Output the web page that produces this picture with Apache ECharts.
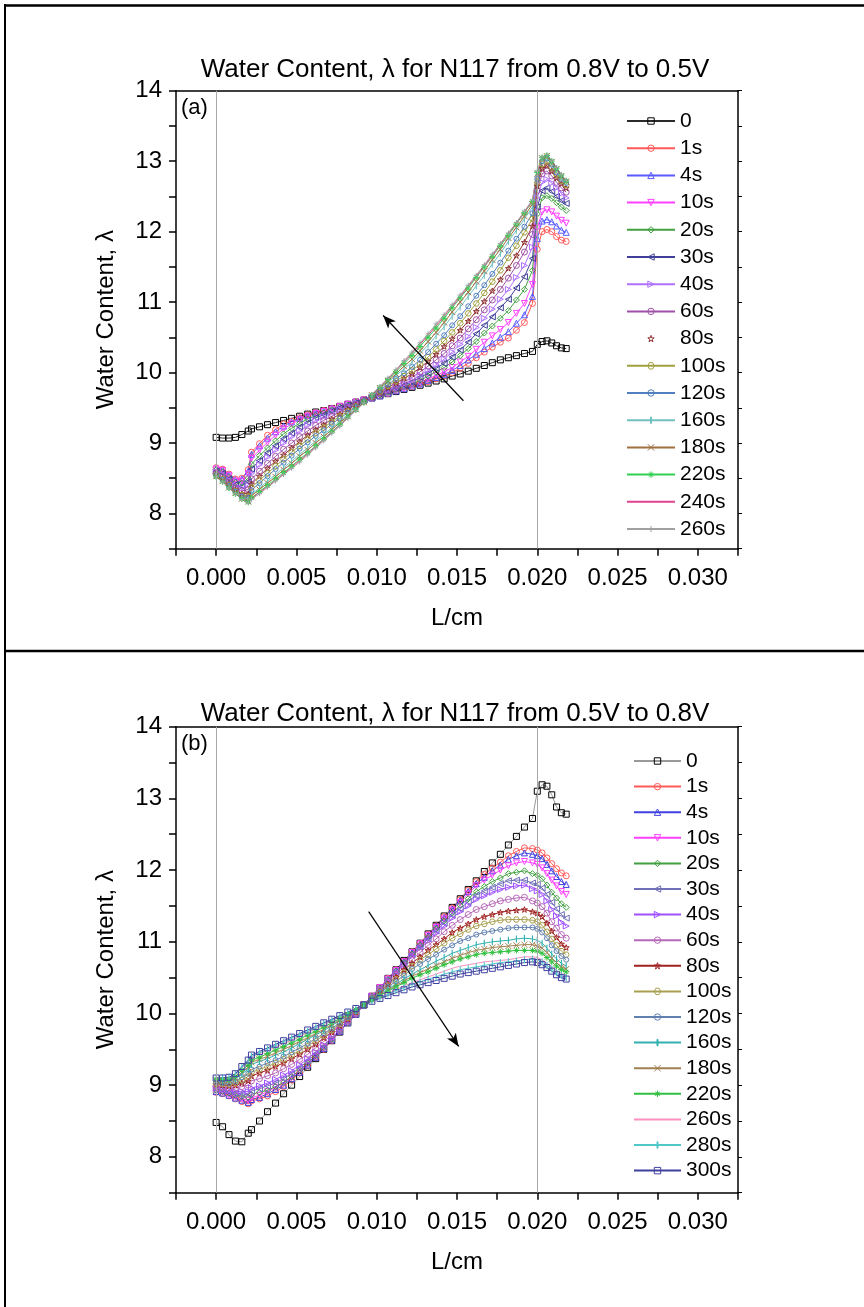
<!DOCTYPE html>
<html><head><meta charset="utf-8">
<script src="https://cdn.jsdelivr.net/npm/echarts@6/dist/echarts.min.js"></script>
<style>html,body{margin:0;padding:0;background:#fff}#c{width:864px;height:1307px}</style>
</head><body><div id="c"></div>
<script>
// ---------------- DATA ----------------
const X = [0,0.0004,0.0008,0.0012,0.0016,0.002,
 0.0022,0.0027,0.0032,0.0037,0.0042,0.0047,0.0052,0.0057,0.0062,0.0067,0.0072,0.0077,
 0.0082,0.0087,0.0092,0.0097,0.0102,0.0107,0.0112,0.0117,0.0122,0.0127,0.0132,0.0137,
 0.0142,0.0147,0.0152,0.0157,0.0162,0.0167,0.0172,0.0177,0.0182,0.0187,0.0192,0.0197,
 0.0200,0.0203,0.0206,0.0209,0.0212,0.0215,0.0218];

const X_TICK_LABELS = ['0.000','0.005','0.010','0.015','0.020','0.025','0.030'];
const Y_TICK_LABELS = [8,9,10,11,12,13,14];
const INTERFACES = [0.002, 0.0197];
const ARROW_A = [[0.0154, 9.60], [0.0104, 10.81]];
const ARROW_B = [[0.0095, 11.42], [0.0151, 9.54]];

const TITLE_A = 'Water Content, \u03bb for N117 from 0.8V to 0.5V';
const TITLE_B = 'Water Content, \u03bb for N117 from 0.5V to 0.8V';

const NAMES_A = ['0','1s','4s','10s','20s','30s','40s','60s','80s','100s','120s','160s','180s','220s','240s','260s'];
const A_0 = [9.08,9.07,9.07,9.08,9.12,9.17,
 9.20,9.23,9.26,9.29,9.32,9.35,9.38,9.41,9.44,9.46,9.49,9.52,
 9.55,9.58,9.61,9.64,9.67,9.70,9.73,9.76,9.79,9.82,9.85,9.88,
 9.91,9.95,9.98,10.02,10.06,10.10,10.14,10.18,10.21,10.24,10.27,10.30,
 10.40,10.44,10.45,10.42,10.38,10.35,10.34];
const A_1s = [8.65,8.63,8.56,8.49,8.50,8.62,
 8.87,8.99,9.11,9.19,9.27,9.31,9.36,9.40,9.43,9.46,9.49,9.52,
 9.55,9.58,9.61,9.64,9.67,9.70,9.74,9.77,9.80,9.84,9.87,9.91,
 9.95,10.00,10.06,10.13,10.21,10.29,10.36,10.43,10.49,10.60,10.71,10.98,
 11.75,12.00,12.03,12.00,11.93,11.88,11.86];
const A_4s = [8.64,8.62,8.55,8.48,8.49,8.60,
 8.84,8.96,9.07,9.16,9.24,9.30,9.35,9.39,9.43,9.45,9.49,9.52,
 9.55,9.58,9.61,9.64,9.67,9.71,9.74,9.77,9.81,9.84,9.89,9.93,
 9.97,10.03,10.10,10.18,10.26,10.34,10.42,10.50,10.58,10.70,10.82,11.08,
 11.90,12.15,12.17,12.14,12.08,12.02,11.99];
const A_10s = [8.63,8.61,8.54,8.46,8.46,8.56,
 8.78,8.90,9.01,9.11,9.20,9.27,9.33,9.38,9.42,9.45,9.48,9.52,
 9.55,9.58,9.61,9.64,9.68,9.71,9.75,9.78,9.82,9.86,9.91,9.96,
 10.01,10.07,10.15,10.23,10.33,10.43,10.52,10.61,10.71,10.84,10.98,11.25,
 12.05,12.28,12.31,12.28,12.22,12.16,12.12];
const A_20s = [8.62,8.59,8.51,8.44,8.43,8.50,
 8.70,8.82,8.93,9.03,9.13,9.21,9.28,9.34,9.39,9.43,9.47,9.51,
 9.54,9.58,9.61,9.65,9.68,9.72,9.76,9.80,9.84,9.89,9.95,10.01,
 10.07,10.15,10.24,10.34,10.44,10.56,10.66,10.77,10.88,11.03,11.18,11.45,
 12.25,12.48,12.51,12.47,12.41,12.35,12.30];
const A_30s = [8.60,8.57,8.49,8.41,8.39,8.45,
 8.63,8.75,8.86,8.96,9.06,9.14,9.23,9.29,9.36,9.40,9.45,9.50,
 9.54,9.57,9.61,9.65,9.69,9.73,9.78,9.82,9.87,9.93,9.99,10.06,
 10.13,10.22,10.32,10.43,10.55,10.67,10.79,10.92,11.04,11.20,11.36,11.62,
 12.35,12.58,12.62,12.57,12.50,12.44,12.40];
const A_40s = [8.59,8.55,8.47,8.39,8.36,8.40,
 8.57,8.69,8.80,8.90,9.00,9.09,9.17,9.25,9.32,9.37,9.43,9.48,
 9.53,9.57,9.61,9.65,9.70,9.75,9.79,9.84,9.89,9.96,10.03,10.11,
 10.19,10.29,10.40,10.51,10.64,10.77,10.90,11.04,11.18,11.35,11.52,11.78,
 12.48,12.70,12.74,12.69,12.62,12.54,12.48];
const A_60s = [8.57,8.52,8.44,8.36,8.32,8.34,
 8.49,8.60,8.71,8.81,8.91,9.00,9.09,9.17,9.25,9.32,9.38,9.44,
 9.50,9.55,9.60,9.65,9.71,9.76,9.82,9.87,9.93,10.01,10.09,10.18,
 10.27,10.38,10.49,10.62,10.75,10.89,11.03,11.18,11.34,11.52,11.71,11.96,
 12.58,12.82,12.86,12.79,12.70,12.62,12.56];
const A_80s = [8.56,8.50,8.42,8.34,8.28,8.28,
 8.42,8.53,8.64,8.74,8.83,8.93,9.02,9.11,9.19,9.26,9.34,9.41,
 9.48,9.54,9.60,9.66,9.72,9.79,9.85,9.92,9.98,10.07,10.16,10.26,
 10.37,10.48,10.60,10.73,10.87,11.01,11.16,11.32,11.48,11.66,11.85,12.08,
 12.65,12.90,12.94,12.86,12.76,12.68,12.62];
const A_100s = [8.55,8.49,8.40,8.32,8.26,8.24,
 8.37,8.47,8.57,8.67,8.77,8.87,8.96,9.05,9.14,9.22,9.30,9.38,
 9.45,9.52,9.59,9.66,9.73,9.81,9.88,9.95,10.03,10.12,10.22,10.33,
 10.45,10.57,10.70,10.84,10.98,11.13,11.29,11.45,11.63,11.80,11.99,12.18,
 12.70,12.96,13.00,12.91,12.81,12.72,12.66];
const A_120s = [8.54,8.48,8.39,8.31,8.24,8.22,
 8.33,8.43,8.53,8.63,8.72,8.82,8.92,9.01,9.10,9.18,9.27,9.35,
 9.43,9.51,9.59,9.67,9.75,9.83,9.91,9.99,10.08,10.18,10.29,10.41,
 10.53,10.67,10.80,10.94,11.09,11.24,11.40,11.56,11.73,11.90,12.07,12.26,
 12.75,13.00,13.04,12.95,12.84,12.75,12.69];
const A_160s = [8.53,8.46,8.37,8.29,8.22,8.18,
 8.27,8.36,8.46,8.55,8.65,8.74,8.84,8.93,9.03,9.12,9.21,9.31,
 9.40,9.49,9.58,9.67,9.77,9.86,9.96,10.05,10.15,10.27,10.39,10.52,
 10.65,10.80,10.93,11.08,11.23,11.38,11.54,11.69,11.86,12.02,12.18,12.35,
 12.80,13.03,13.06,12.98,12.88,12.78,12.70];
const A_180s = [8.53,8.46,8.37,8.29,8.21,8.17,
 8.25,8.34,8.43,8.52,8.62,8.71,8.81,8.90,9.00,9.09,9.19,9.29,
 9.38,9.48,9.58,9.68,9.78,9.88,9.98,10.09,10.19,10.31,10.44,10.57,
 10.71,10.86,11.00,11.14,11.29,11.44,11.60,11.75,11.91,12.06,12.22,12.39,
 12.82,13.04,13.07,12.99,12.89,12.79,12.71];
const A_220s = [8.52,8.45,8.36,8.28,8.21,8.16,
 8.22,8.31,8.40,8.49,8.58,8.67,8.77,8.86,8.96,9.06,9.16,9.26,
 9.37,9.47,9.58,9.68,9.79,9.90,10.01,10.13,10.24,10.37,10.50,10.63,
 10.77,10.92,11.06,11.20,11.35,11.50,11.65,11.80,11.95,12.11,12.27,12.43,
 12.84,13.05,13.08,13.00,12.90,12.80,12.72];
const A_240s = [8.52,8.45,8.36,8.28,8.20,8.15,
 8.21,8.30,8.38,8.47,8.56,8.66,8.75,8.85,8.95,9.05,9.15,9.25,
 9.36,9.47,9.57,9.69,9.80,9.91,10.03,10.15,10.27,10.40,10.53,10.66,
 10.80,10.94,11.08,11.22,11.37,11.51,11.66,11.82,11.97,12.12,12.28,12.44,
 12.85,13.05,13.08,13.00,12.90,12.80,12.72];
const A_260s = [8.52,8.45,8.36,8.28,8.20,8.15,
 8.20,8.28,8.37,8.46,8.55,8.64,8.73,8.83,8.93,9.03,9.14,9.24,
 9.35,9.46,9.57,9.69,9.80,9.92,10.04,10.17,10.29,10.42,10.55,10.69,
 10.82,10.96,11.10,11.24,11.38,11.53,11.68,11.83,11.98,12.13,12.29,12.45,
 12.86,13.06,13.09,13.01,12.91,12.81,12.73];

const NAMES_B = ['0','1s','4s','10s','20s','30s','40s','60s','80s','100s','120s','160s','180s','220s','260s','280s','300s'];
const B_0 = [8.48,8.42,8.31,8.22,8.21,8.33,
 8.38,8.50,8.63,8.75,8.88,9.00,9.12,9.25,9.37,9.50,9.62,9.74,
 9.87,9.99,10.12,10.24,10.36,10.49,10.61,10.74,10.86,10.98,11.11,11.23,
 11.36,11.48,11.60,11.73,11.85,11.98,12.10,12.22,12.35,12.47,12.60,12.72,
 13.10,13.19,13.17,13.05,12.88,12.80,12.78];
const B_1s = [8.90,8.88,8.85,8.81,8.77,8.74,
 8.78,8.81,8.85,8.91,8.98,9.07,9.17,9.27,9.39,9.50,9.62,9.75,
 9.87,9.99,10.12,10.24,10.36,10.49,10.61,10.73,10.86,10.98,11.10,11.22,
 11.35,11.47,11.59,11.72,11.84,11.94,12.03,12.11,12.20,12.26,12.31,12.30,
 12.28,12.24,12.17,12.09,12.02,11.96,11.92];
const B_4s = [8.91,8.89,8.86,8.82,8.79,8.76,
 8.80,8.83,8.88,8.94,9.00,9.09,9.18,9.28,9.39,9.51,9.63,9.75,
 9.87,9.99,10.12,10.24,10.36,10.48,10.61,10.73,10.85,10.97,11.09,11.22,
 11.34,11.46,11.58,11.70,11.81,11.90,11.99,12.07,12.15,12.20,12.24,12.22,
 12.20,12.16,12.08,11.99,11.91,11.84,11.80];
const B_10s = [8.92,8.90,8.87,8.84,8.81,8.79,
 8.82,8.86,8.91,8.97,9.03,9.11,9.20,9.30,9.40,9.51,9.63,9.75,
 9.87,9.99,10.12,10.24,10.36,10.48,10.60,10.72,10.85,10.97,11.09,11.20,
 11.32,11.44,11.55,11.67,11.78,11.86,11.93,12.00,12.06,12.10,12.12,12.10,
 12.08,12.03,11.95,11.86,11.78,11.70,11.66];
const B_20s = [8.93,8.91,8.89,8.86,8.84,8.83,
 8.87,8.90,8.93,8.98,9.04,9.12,9.21,9.31,9.41,9.52,9.64,9.76,
 9.87,10.00,10.12,10.24,10.35,10.47,10.59,10.71,10.83,10.95,11.06,11.18,
 11.29,11.40,11.51,11.60,11.70,11.77,11.84,11.89,11.95,11.97,11.99,11.95,
 11.93,11.88,11.79,11.69,11.61,11.53,11.48];
const B_30s = [8.94,8.93,8.91,8.89,8.88,8.87,
 8.92,8.95,8.99,9.03,9.09,9.16,9.24,9.34,9.44,9.54,9.65,9.76,
 9.88,10.00,10.12,10.23,10.35,10.47,10.58,10.70,10.82,10.93,11.04,11.15,
 11.26,11.37,11.46,11.56,11.65,11.71,11.76,11.81,11.85,11.86,11.86,11.82,
 11.80,11.75,11.66,11.55,11.46,11.38,11.33];
const B_40s = [8.96,8.94,8.92,8.91,8.91,8.91,
 8.96,8.99,9.03,9.08,9.14,9.20,9.28,9.37,9.46,9.56,9.66,9.77,
 9.88,10.00,10.12,10.23,10.34,10.46,10.57,10.68,10.80,10.91,11.01,11.12,
 11.22,11.33,11.42,11.50,11.59,11.64,11.69,11.73,11.76,11.78,11.79,11.74,
 11.71,11.66,11.57,11.45,11.36,11.27,11.22];
const B_60s = [8.98,8.97,8.96,8.96,8.98,9.00,
 9.06,9.09,9.13,9.17,9.23,9.29,9.36,9.43,9.52,9.61,9.70,9.80,
 9.90,10.01,10.12,10.22,10.33,10.44,10.54,10.65,10.75,10.85,10.95,11.04,
 11.14,11.23,11.31,11.38,11.45,11.49,11.53,11.57,11.59,11.61,11.62,11.57,
 11.54,11.49,11.40,11.28,11.19,11.10,11.05];
const B_80s = [9.01,9.00,8.99,9.00,9.03,9.06,
 9.13,9.17,9.21,9.26,9.31,9.37,9.43,9.50,9.57,9.66,9.74,9.83,
 9.92,10.02,10.12,10.22,10.31,10.41,10.51,10.61,10.70,10.79,10.88,10.96,
 11.04,11.13,11.19,11.25,11.31,11.35,11.38,11.41,11.43,11.44,11.45,11.42,
 11.40,11.35,11.26,11.15,11.06,10.97,10.92];
const B_100s = [9.02,9.02,9.01,9.03,9.07,9.12,
 9.18,9.22,9.26,9.31,9.36,9.42,9.48,9.55,9.62,9.69,9.77,9.85,
 9.94,10.03,10.12,10.21,10.30,10.39,10.48,10.57,10.66,10.75,10.82,10.90,
 10.98,11.05,11.11,11.17,11.22,11.25,11.28,11.30,11.31,11.31,11.31,11.30,
 11.28,11.23,11.14,11.04,10.95,10.87,10.82];
const B_120s = [9.04,9.03,9.03,9.05,9.11,9.16,
 9.22,9.26,9.31,9.35,9.40,9.46,9.52,9.58,9.65,9.72,9.79,9.87,
 9.95,10.03,10.12,10.21,10.29,10.37,10.45,10.53,10.62,10.69,10.76,10.82,
 10.89,10.95,11.01,11.05,11.10,11.13,11.15,11.17,11.19,11.20,11.20,11.20,
 11.18,11.13,11.05,10.95,10.87,10.80,10.75];
const B_160s = [9.06,9.05,9.06,9.09,9.16,9.22,
 9.29,9.33,9.37,9.42,9.46,9.52,9.58,9.64,9.70,9.76,9.83,9.90,
 9.97,10.04,10.12,10.20,10.27,10.34,10.41,10.48,10.55,10.61,10.67,10.73,
 10.78,10.84,10.88,10.92,10.96,10.98,11.00,11.01,11.02,11.04,11.05,11.04,
 11.02,10.98,10.91,10.83,10.76,10.70,10.66];
const B_180s = [9.07,9.06,9.07,9.10,9.18,9.25,
 9.32,9.36,9.40,9.45,9.50,9.55,9.61,9.66,9.72,9.78,9.85,9.91,
 9.98,10.05,10.12,10.19,10.26,10.32,10.39,10.45,10.52,10.57,10.62,10.67,
 10.72,10.77,10.81,10.85,10.88,10.90,10.92,10.93,10.94,10.95,10.96,10.96,
 10.94,10.91,10.85,10.77,10.71,10.65,10.62];
const B_220s = [9.08,9.08,9.08,9.12,9.21,9.28,
 9.35,9.39,9.44,9.49,9.54,9.59,9.64,9.70,9.75,9.81,9.87,9.93,
 9.99,10.05,10.12,10.19,10.25,10.31,10.37,10.43,10.49,10.54,10.58,10.63,
 10.68,10.72,10.76,10.79,10.82,10.84,10.85,10.86,10.87,10.88,10.88,10.88,
 10.87,10.84,10.78,10.72,10.66,10.61,10.58];
const B_260s = [9.09,9.09,9.10,9.14,9.24,9.32,
 9.39,9.44,9.48,9.53,9.58,9.63,9.68,9.74,9.79,9.84,9.90,9.95,
 10.00,10.06,10.12,10.18,10.23,10.28,10.33,10.38,10.43,10.47,10.51,10.55,
 10.59,10.63,10.66,10.68,10.70,10.72,10.73,10.74,10.75,10.77,10.79,10.79,
 10.78,10.75,10.70,10.65,10.60,10.56,10.53];
const B_280s = [9.10,9.10,9.11,9.15,9.25,9.34,
 9.40,9.45,9.50,9.55,9.60,9.65,9.70,9.75,9.80,9.86,9.91,9.96,
 10.01,10.07,10.12,10.18,10.22,10.27,10.32,10.36,10.41,10.44,10.48,10.51,
 10.55,10.58,10.61,10.63,10.65,10.67,10.69,10.71,10.72,10.73,10.75,10.76,
 10.75,10.72,10.67,10.62,10.57,10.53,10.50];
const B_300s = [9.10,9.10,9.11,9.16,9.26,9.35,
 9.42,9.47,9.52,9.57,9.62,9.67,9.72,9.77,9.82,9.87,9.92,9.97,
 10.02,10.07,10.12,10.17,10.21,10.25,10.29,10.33,10.37,10.40,10.43,10.46,
 10.49,10.52,10.55,10.57,10.59,10.61,10.63,10.65,10.67,10.69,10.71,10.72,
 10.71,10.68,10.64,10.59,10.54,10.50,10.48];

const VALUES_A = [A_0,A_1s,A_4s,A_10s,A_20s,A_30s,A_40s,A_60s,A_80s,A_100s,A_120s,A_160s,A_180s,A_220s,A_240s,A_260s];
const VALUES_B = [B_0,B_1s,B_4s,B_10s,B_20s,B_30s,B_40s,B_60s,B_80s,B_100s,B_120s,B_160s,B_180s,B_220s,B_260s,B_280s,B_300s];

// ---------------- STYLES ----------------
const FONT = '"Liberation Sans", Arial, sans-serif';
const P = {
  star: 'path://M5,0L6.18,3.62L10,3.62L6.91,5.86L8.09,9.47L5,7.24L1.91,9.47L3.09,5.86L0,3.62L3.82,3.62Z',
  hex: 'path://M2.5,0L7.5,0L10,4.33L7.5,8.66L2.5,8.66L0,4.33Z',
  cross: 'path://M0,0L10,10M10,0L0,10',
  aster: 'path://M5,0L5,10M0,5L10,5M1.5,1.5L8.5,8.5M8.5,1.5L1.5,8.5',
  plus: 'path://M5,0L5,10M0,5L10,5',
  bar: 'path://M4.2,0L5.8,0L5.8,10L4.2,10Z M0,5L0,5 M10,5L10,5'
};
const STYLE_A = [
  {c:'#2a2a2a', b:'#000', s:'rect'},
  {c:'#ff5a5a', s:'circle'},
  {c:'#5a5aff', s:'triangle'},
  {c:'#ff40ff', s:'triangle', r:180},
  {c:'#40a040', s:'diamond'},
  {c:'#40409a', s:'triangle', r:90},
  {c:'#b070ff', s:'triangle', r:-90},
  {c:'#a050a8', s:'circle'},
  {c:'#903030', s:P.star, noLegendLine:true},
  {c:'#a0a040', s:P.hex},
  {c:'#5080c0', s:'circle', z:5},
  {c:'#70c0c0', s:P.bar, fill:true, z:7},
  {c:'#a07040', s:P.cross},
  {c:'#30d050', s:P.aster},
  {c:'#e04090', s:'none'},
  {c:'#a0a0a0', s:P.plus, z:5}
];
const STYLE_B = [
  {c:'#999999', b:'#000', s:'rect'},
  {c:'#ff5a5a', s:'circle'},
  {c:'#4040e0', s:'triangle'},
  {c:'#ff40ff', s:'triangle', r:180},
  {c:'#40a040', s:'diamond'},
  {c:'#7070b8', s:'triangle', r:90},
  {c:'#a050ff', s:'triangle', r:-90},
  {c:'#b868b8', s:'circle'},
  {c:'#a02020', s:P.star},
  {c:'#a8a050', s:P.hex},
  {c:'#6080b0', s:'circle', z:5},
  {c:'#30b0b0', s:P.bar, fill:true, z:7},
  {c:'#a08050', s:P.cross},
  {c:'#30c040', s:P.aster},
  {c:'#ff90c0', s:'none'},
  {c:'#50c8c8', s:P.bar, fill:true, z:7},
  {c:'#4040a0', s:'rect'}
];

function mkSeries(name, vals, st, xi, yi) {
  return {
    type: 'line', name: name, xAxisIndex: xi, yAxisIndex: yi,
    data: X.map((x, i) => [x, vals[i]]),
    symbol: st.s, symbolSize: st.z || 6, symbolRotate: st.r || 0, symbolKeepAspect: true,
    showSymbol: st.s !== 'none', showAllSymbol: true,
    color: st.c,
    lineStyle: {color: st.c, width: 1},
    itemStyle: {color: st.fill ? st.c : 'rgba(0,0,0,0)', borderColor: st.b || st.c, borderWidth: st.fill ? 0 : 1},
    emphasis: {disabled: true}, silent: true, animation: false
  };
}

const series = [];
NAMES_A.forEach((n, i) => series.push(mkSeries(n, VALUES_A[i], STYLE_A[i], 0, 0)));
NAMES_B.forEach((n, i) => series.push(mkSeries('b_' + n, VALUES_B[i], STYLE_B[i], 2, 2)));

function vlines() {
  return {silent: true, symbol: ['none', 'none'], label: {show: false}, animation: false,
    lineStyle: {color: '#a8a8a8', width: 1, type: 'solid'}, emphasis: {disabled: true},
    data: INTERFACES.map(v => ({xAxis: v}))};
}
function arrow(a) {
  return {silent: true, symbol: ['none', 'arrow'], symbolSize: [8, 13], label: {show: false}, animation: false,
    lineStyle: {color: '#000', width: 1.2, type: 'solid'}, emphasis: {disabled: true},
    data: [[{coord: a[0]}, {coord: a[1]}]]};
}
series[0].markLine = vlines();
series[NAMES_A.length - 1].markLine = arrow(ARROW_A);
series[NAMES_A.length].markLine = vlines();
series[series.length - 1].markLine = arrow(ARROW_B);

const fx = v => { const s = (Math.round(v * 10000) / 10000).toFixed(3); return (Math.round(v * 10000) % 50 === 0 && X_TICK_LABELS.includes(s)) ? s : ''; };
const fy = v => Y_TICK_LABELS.includes(v) ? String(v) : '';
const axisText = {fontSize: 24, color: '#000', fontFamily: FONT};
const lineBlack = {color: '#000', width: 1.5};

function xBottom(gi) {
  return {gridIndex: gi, type: 'value', position: 'bottom', min: -0.0025, max: 0.0325, interval: 0.0025,
    axisLine: {show: true, onZero: false, lineStyle: lineBlack},
    axisTick: {show: true, inside: false, length: 7, lineStyle: lineBlack},
    axisLabel: Object.assign({formatter: fx, margin: 18, showMinLabel: true, showMaxLabel: true}, axisText),
    splitLine: {show: false},
    name: 'L/cm', nameLocation: 'middle', nameGap: 58, nameTextStyle: axisText};
}
function xTop(gi) {
  return {gridIndex: gi, type: 'value', position: 'top', min: -0.0025, max: 0.0325, interval: 0.0025,
    axisLine: {show: true, onZero: false, lineStyle: lineBlack},
    axisTick: {show: false}, axisLabel: {show: false}, splitLine: {show: false}};
}
function yLeft(gi) {
  return {gridIndex: gi, type: 'value', position: 'left', min: 7.5, max: 14, interval: 0.5,
    axisLine: {show: true, onZero: false, lineStyle: lineBlack},
    axisTick: {show: true, inside: false, length: 7, lineStyle: lineBlack},
    axisLabel: Object.assign({formatter: fy, margin: 14}, axisText),
    splitLine: {show: false},
    name: 'Water Content, \u03bb', nameLocation: 'middle', nameGap: 58, nameRotate: 90, nameTextStyle: axisText};
}
function yRight(gi) {
  return {gridIndex: gi, type: 'value', position: 'right', min: 7.5, max: 14, interval: 0.5,
    axisLine: {show: true, onZero: false, lineStyle: lineBlack},
    axisTick: {show: true, inside: false, length: 4, lineStyle: {color: '#000', width: 1}},
    axisLabel: {show: false}, splitLine: {show: false}};
}

function legendData(names, styles, prefix) {
  return names.map((n, i) => {
    const d = {name: prefix + n};
    if (styles[i].s === 'none') d.itemStyle = {opacity: 0};
    if (styles[i].noLegendLine) d.lineStyle = {opacity: 0};
    return d;
  });
}
const legendText = {fontSize: 21, lineHeight: 22, color: '#000', fontFamily: FONT};

const option = {
  backgroundColor: '#fff',
  animation: false,
  grid: [
    {left: 176, top: 90.7, width: 562, height: 458},
    {left: 176, top: 726.7, width: 562, height: 466}
  ],
  xAxis: [xBottom(0), xTop(0), xBottom(1), xTop(1)],
  yAxis: [yLeft(0), yRight(0), yLeft(1), yRight(1)],
  legend: [
    {orient: 'vertical', left: 621, top: 105, itemWidth: 48, itemHeight: 8, itemGap: 5.2,
     selectedMode: false, data: legendData(NAMES_A, STYLE_A, ''), textStyle: legendText,
     itemStyle: {borderWidth: 1}},
    {orient: 'vertical', left: 628, top: 745, itemWidth: 47, itemHeight: 8, itemGap: 3.6,
     selectedMode: false, data: legendData(NAMES_B, STYLE_B, 'b_'), textStyle: legendText,
     itemStyle: {borderWidth: 1}, formatter: n => n.slice(2)}
  ],
  graphic: [
    {type: 'line', silent: true, shape: {x1: 4, y1: 5.5, x2: 864, y2: 5.5}, style: {stroke: '#000', lineWidth: 2.5}},
    {type: 'line', silent: true, shape: {x1: 5, y1: 4, x2: 5, y2: 1307}, style: {stroke: '#000', lineWidth: 2}},
    {type: 'line', silent: true, shape: {x1: 4, y1: 651, x2: 864, y2: 651}, style: {stroke: '#000', lineWidth: 2.5}},
    {type: 'text', silent: true, x: 455, y: 70, style: {text: TITLE_A, fontSize: 26, fontFamily: FONT, fill: '#000', align: 'center', verticalAlign: 'middle'}},
    {type: 'text', silent: true, x: 455, y: 714, style: {text: TITLE_B, fontSize: 26, fontFamily: FONT, fill: '#000', align: 'center', verticalAlign: 'middle'}},
    {type: 'text', silent: true, x: 181, y: 108, style: {text: '(a)', fontSize: 22, fontFamily: FONT, fill: '#000', align: 'left', verticalAlign: 'middle'}},
    {type: 'text', silent: true, x: 181, y: 744, style: {text: '(b)', fontSize: 22, fontFamily: FONT, fill: '#000', align: 'left', verticalAlign: 'middle'}}
  ],
  series: series
};

const chart = echarts.init(document.getElementById('c'), null, {renderer: 'canvas', width: 864, height: 1307});
chart.setOption(option);
</script>
</body></html>
